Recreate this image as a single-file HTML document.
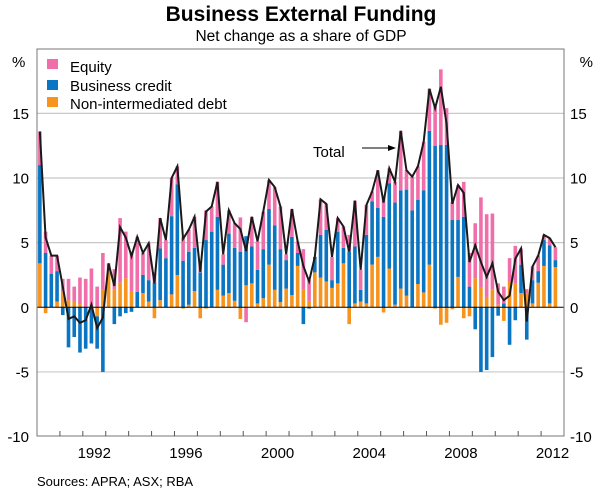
<!DOCTYPE html>
<html><head><meta charset="utf-8"><style>
html,body{margin:0;padding:0;background:#fff;}
svg{display:block;font-family:"Liberation Sans",Arial,sans-serif;}
</style></head><body>
<svg id="chart" width="600" height="492" viewBox="0 0 600 492">
<text x="301" y="21" text-anchor="middle" font-size="21" font-weight="bold" fill="#000">Business External Funding</text>
<text x="301" y="41" text-anchor="middle" font-size="15.5" fill="#000">Net change as a share of GDP</text>
<g id="grid"></g>
<g id="bars"></g>
<g id="line"></g>
<rect x="37" y="49" width="527" height="387" fill="none" stroke="#777" stroke-width="1"/>
<g id="axes"></g>
<g>
<rect x="47" y="59" width="11" height="10" fill="#f06eaa"/>
<text x="70" y="72" font-size="15">Equity</text>
<rect x="47" y="80" width="11" height="10" fill="#0a75c2"/>
<text x="70" y="91" font-size="15">Business credit</text>
<rect x="47" y="97" width="11" height="10" fill="#f7941d"/>
<text x="70" y="109" font-size="15">Non-intermediated debt</text>
</g>
<text x="313" y="157" font-size="15">Total</text>
<g>
<line x1="362" y1="148" x2="390" y2="148" stroke="#000" stroke-width="1"/>
<polygon points="396,148 388,145 388,151" fill="#000"/>
</g>
<text x="37" y="486" font-size="13">Sources: APRA; ASX; RBA</text>
</svg>
<script>
const nid = [3.4,-0.45,0,0.45,1.2,0.55,0.45,0.25,0,0,-0.7,1.35,2.75,1.35,1.9,2.25,1.2,0,1.1,0.45,-0.85,0.55,0,1.0,2.5,-0.1,0.2,1.25,-0.85,-0.1,0,1.35,0.9,1.1,0.5,-0.9,1.7,1.85,0.3,0.7,3.3,1.35,0.4,1.45,0.95,3.2,1.35,0.5,2.7,2.3,2.0,1.5,1.85,3.4,-1.3,0.3,0.45,0.3,3.3,3.9,-0.4,3.0,0.2,1.45,0.9,0,1.8,1.15,3.3,-0.1,-1.35,-1.2,-0.15,2.35,-0.85,-0.7,2.25,1.5,0.8,1.4,0.2,-1.05,2.0,1.85,1.1,1.1,0.3,1.9,3.2,0.3,3.1];
const credit = [7.6,4.2,2.6,2.35,-0.6,-3.1,-2.3,-3.5,-3.2,-2.8,-2.5,-5.0,0,-1.3,-0.7,-0.45,-0.35,1.2,1.4,1.65,1.9,4.0,3.8,6.05,7.0,3.6,4.1,3.35,2.7,5.2,5.85,5.65,2.4,4.6,4.1,4.3,3.8,2.85,2.6,3.8,4.3,5.0,4.1,2.2,4.5,1.0,-1.3,-0.1,1.2,3.3,4.0,0.6,4.0,1.2,4.3,4.4,0.9,5.3,4.9,3.8,7.0,6.6,7.9,7.6,8.2,7.5,6.5,7.9,10.35,12.5,12.55,12.55,6.75,4.4,7.0,1.6,-1.7,-5.0,-4.85,-3.85,-0.65,0.3,-2.9,-1.0,2.2,-2.5,1.8,0.9,2.0,4.5,0.55];
const equity = [2.6,1.65,1.4,1.2,1.0,1.65,1.15,2.05,2.2,3.0,1.6,2.85,0.65,1.6,5.0,3.6,3.1,4.25,1.7,2.85,0.8,2.35,1.4,2.95,1.4,1.8,1.7,2.4,0.9,2.3,1.95,2.7,0.8,1.8,1.9,2.65,-1.15,2.3,2.2,2.9,2.25,2.95,3.3,0.45,2.15,0.9,3.15,1.6,0,2.75,2.0,1.8,1.05,1.65,1.3,3.55,1.55,2.3,0.75,2.9,1.5,1.15,1.6,4.6,1.5,2.6,2.6,3.75,3.25,3.0,5.85,2.85,1.4,2.7,2.7,2.6,4.25,7.0,6.4,5.85,1.65,1.3,1.8,2.9,1.25,0.3,1.05,1.2,0.4,0.55,1.0];
const yTicks = [15,10,5,0,-5,-10];
const yearLabels = [1992,1996,2000,2004,2008,2012];
const startYear = 1990, nYears = 23;

const NS = "http://www.w3.org/2000/svg";
const X0 = 37, X1 = 564;
const qW = (X1 - X0) / (nYears * 4);
const xq = i => X0 + (i + 0.5) * qW;
const xYear = y => X0 + (y - startYear) * 4 * qW;
const yv = v => 307.3 - 12.93 * v;
function mk(tag, attrs, parent) {
  const e = document.createElementNS(NS, tag);
  for (const k in attrs) e.setAttribute(k, attrs[k]);
  parent.appendChild(e);
  return e;
}
const grid = document.getElementById('grid');
const axes = document.getElementById('axes');
yTicks.forEach(t => {
  if (t !== 0 && t !== -10) {
    const g = mk('line', {x1: X0, x2: X1, y1: yv(t), y2: yv(t), stroke: '#c8c8c8', 'stroke-width': 1.2}, grid);
    
    
  }
  const l = mk('text', {x: 29, y: yv(t) + 5.5, 'text-anchor': 'end', 'font-size': 15}, axes);
  l.textContent = t;
  
  
  const r = mk('text', {x: 570, y: yv(t) + 5.5, 'font-size': 15}, axes);
  r.textContent = t;
  
  
});
[[12, 'start'], [593, 'end']].forEach(p => {
  const u = mk('text', {x: p[0], y: 67, 'text-anchor': p[1], 'font-size': 15}, axes);
  u.textContent = '%';
  
  
});
for (let y = startYear + 1; y < startYear + nYears; y++) {
  const t = mk('line', {x1: xYear(y), x2: xYear(y), y1: 436, y2: 431, stroke: '#555', 'stroke-width': 1}, axes);
  
  
}
yearLabels.forEach(y => {
  const t = mk('text', {x: xYear(y + 0.5), y: 458, 'text-anchor': 'middle', 'font-size': 15}, axes);
  t.textContent = y;
  
  
});
const bars = document.getElementById('bars');
const colors = ['#f7941d', '#0a75c2', '#f06eaa'];
const names = ['bar-nid', 'bar-credit', 'bar-equity'];
const bw = 3.6;
for (let i = 0; i < nid.length; i++) {
  let pos = 0, neg = 0;
  [nid[i], credit[i], equity[i]].forEach((v, k) => {
    let a, b;
    if (v >= 0) { a = pos; b = pos + v; pos = b; } else { a = neg; b = neg + v; neg = b; }
    const top = Math.min(yv(a), yv(b)), h = Math.abs(yv(a) - yv(b));
    const r = mk('rect', {x: xq(i) - bw / 2, y: top, width: bw, height: h, fill: colors[k]}, bars);
    
    
  });
}
const zl = mk('line', {x1: X0, x2: X1, y1: yv(0), y2: yv(0), stroke: '#000', 'stroke-width': 1}, grid.parentNode.querySelector('#line'));


let pts = [];
for (let i = 0; i < nid.length; i++) {
  const tot = nid[i] + credit[i] + equity[i];
  pts.push(xq(i).toFixed(2) + ',' + yv(tot).toFixed(2));
}
const pl = mk('polyline', {points: pts.join(' '), fill: 'none', stroke: '#1a1a1a', 'stroke-width': 2, 'stroke-linejoin': 'miter'}, document.getElementById('line'));


</script>
</body></html>
